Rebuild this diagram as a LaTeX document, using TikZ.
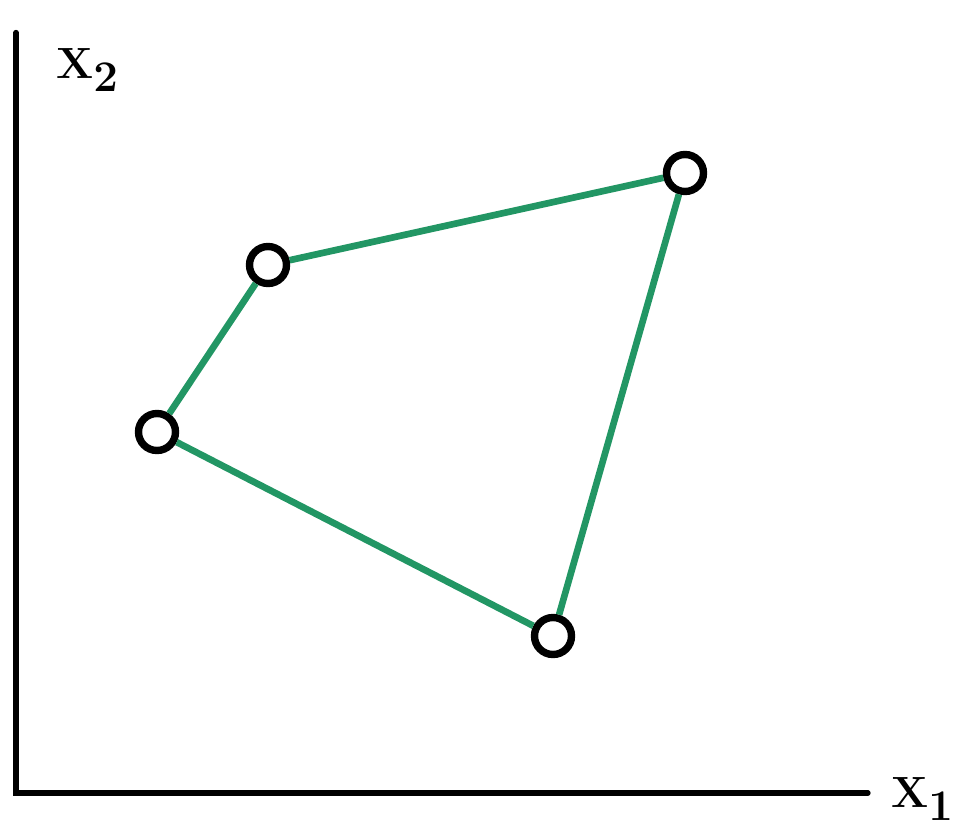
\documentclass[tikz,border=0pt]{standalone}
\usepackage{xcolor}
\usepackage{tikz}
\definecolor{edgegreen}{RGB}{34,150,100}

\begin{document}
\begin{tikzpicture}[
  pt/.style={draw, circle, line width=4.2pt, minimum size=0.74cm, inner sep=0pt, fill=white},
  axis/.style={line width=3pt, line cap=round},
  edge/.style={edgegreen, line width=3.8pt},
  lbl/.style={font=\fontsize{40}{44}\selectfont, inner sep=1pt}
]
\useasboundingbox (0,0) rectangle (19.2,16.7);

%% Axes
\coordinate (orig) at (0.32, 0.84);
\coordinate (ytop) at (0.32, 16.05);
\coordinate (xend) at (17.36, 0.84);
\draw[axis] (ytop) -- (orig) -- (xend);
\node[lbl] (lx2) at (1.75, 15.3) {$\mathbf{X_2}$};
\node[lbl] (lx1) at (18.45, 0.72) {$\mathbf{X_1}$};

%% Points
\node[pt] (pa) at ( 5.36, 11.40) {};
\node[pt] (pb) at (13.70, 13.24) {};
\node[pt] (pc) at ( 3.14,  8.06) {};
\node[pt] (pd) at (11.06,  3.98) {};

%% Edges
\draw[edge] (pa) -- (pb);
\draw[edge] (pb) -- (pd);
\draw[edge] (pd) -- (pc);
\draw[edge] (pc) -- (pa);

\end{tikzpicture}
\end{document}
